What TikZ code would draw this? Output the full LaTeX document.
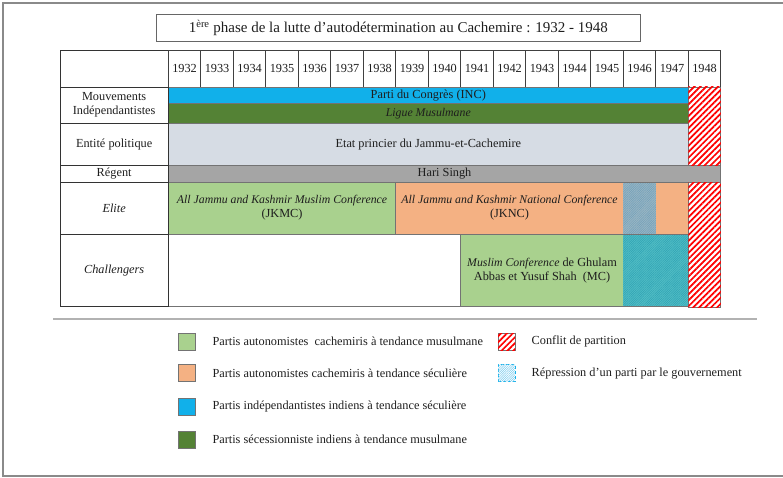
\documentclass[tikz,border=0pt]{standalone}
\usepackage{fontspec}
\setmainfont{Liberation Serif}
\usetikzlibrary{patterns.meta}
\definecolor{incblue}{HTML}{11B0EA}
\definecolor{liguegreen}{HTML}{548235}
\definecolor{etatgrey}{HTML}{D6DCE4}
\definecolor{harigrey}{HTML}{A5A5A5}
\definecolor{lightgreen}{HTML}{A9D18E}
\definecolor{orangeb}{HTML}{F4B183}
\definecolor{repOrange}{HTML}{9BB6C2}
\definecolor{repOrangeL}{HTML}{6E9FBC}
\definecolor{repTeal}{HTML}{52BEC4}
\definecolor{repTealL}{HTML}{2EA2B6}
\definecolor{repLegend}{HTML}{7CCDF0}
\definecolor{txt}{HTML}{1E1E1E}
\definecolor{framegrey}{HTML}{8A8A8A}
\newcommand{\itsmall}[1]{{\fontsize{11.8}{14}\selectfont\textit{#1}}}
\begin{document}
\begin{tikzpicture}[x=1pt,y=-1pt,
  base/.style={inner sep=0pt, outer sep=0pt, anchor=north west, align=center,
    text=txt, font=\fontsize{12.3}{14}\selectfont},
  labelcell/.style={base, draw=black!80, line width=0.9pt},
  yearcell/.style={base, draw=black!75, line width=0.8pt, minimum width=32.5pt, minimum height=37pt},
  bar/.style={base, draw=black!55, line width=0.7pt},
  plain/.style={base, draw=none},
  partition/.style={fill=white, postaction={pattern={Lines[angle=45,distance=4.2pt,line width=1.7pt]}, pattern color=red}},
  reporange/.style={fill=repOrange, postaction={pattern={Lines[angle=45,distance=1.6pt,line width=0.5pt]}, pattern color=repOrangeL}},
  repteal/.style={fill=repTeal, postaction={pattern={Lines[angle=45,distance=1.6pt,line width=0.5pt]}, pattern color=repTealL}},
  legsq/.style={base, anchor=center, draw=black!55, line width=0.7pt, minimum width=17pt, minimum height=17pt},
  legtxt/.style={base, anchor=west},
  frame/.style={draw=framegrey, line width=1.5pt},
  sep/.style={draw=black!30, line width=1.3pt}
]
\useasboundingbox (0,0) rectangle (783,478);

% outer frame
\coordinate (fTL) at (3,3);
\coordinate (fTR) at (790,3);
\coordinate (fBL) at (3,476);
\coordinate (fBR) at (790,476);
\draw[frame] (fTR) -- (fTL) -- (fBL) -- (fBR);

% title
\node[base, draw=black!60, line width=0.9pt, minimum width=484.7pt, minimum height=27.7pt,
  font=\fontsize{15}{18}\selectfont] (title) at (156,14)
  {1\textsuperscript{ère} phase de la lutte d’autodétermination au Cachemire : 1932 - 1948};

% header
\node[labelcell, minimum width=108.3pt, minimum height=37pt] (corner) at (60,50) {};
\foreach \i in {0,...,16}{
  \pgfmathsetmacro{\xx}{168.3+32.5*\i}
  \node[yearcell] (y\i) at (\xx,50) {\the\numexpr1932+\i\relax};
}

% bars
\node[bar, fill=incblue, minimum width=520pt, minimum height=16.3pt] (inc) at (168.3,87) {Parti du Congrès (INC)};
\node[bar, fill=liguegreen, minimum width=520pt, minimum height=20pt] (ligue) at (168.3,103.3) {\itsmall{Ligue Musulmane}};
\node[bar, fill=etatgrey, minimum width=520pt, minimum height=42.4pt] (etat) at (168.3,123.3) {Etat princier du Jammu-et-Cachemire};
\node[bar, fill=harigrey, minimum width=552.5pt, minimum height=16.6pt] (hari) at (168.3,165.7) {Hari Singh};
\node[bar, fill=lightgreen, minimum width=227.5pt, minimum height=51.7pt] (jkmc) at (168.3,182.3)
  {\itsmall{All Jammu and Kashmir Muslim Conference}\\(JKMC)};
\node[plain, fill=orangeb, minimum width=227.5pt, minimum height=51.7pt] (jknc) at (395.8,182.3)
  {\itsmall{All Jammu and Kashmir National Conference}\\(JKNC)};
\node[plain, reporange, minimum width=32.5pt, minimum height=51.7pt] (jkncR) at (623.3,182.3) {};
\node[plain, fill=orangeb, minimum width=32.5pt, minimum height=51.7pt] (jkncB) at (655.8,182.3) {};
\draw[draw=black!55, line width=0.7pt] (jknc.north west) rectangle (jkncB.south east);

\node[bar, fill=white, minimum width=292.5pt, minimum height=72.7pt] (chalEmpty) at (168.3,234) {};
\node[plain, fill=lightgreen, minimum width=162.5pt, minimum height=72.7pt] (mc) at (460.8,234)
  {\itsmall{Muslim Conference} de Ghulam\\Abbas et Yusuf Shah\ \ (MC)};
\node[plain, repteal, minimum width=65pt, minimum height=72.7pt] (mcR) at (623.3,234) {};
\draw[draw=black!55, line width=0.7pt] (mc.north west) rectangle (mcR.south east);

% partition conflict 1948
\node[bar, partition, minimum width=32.5pt, minimum height=78.7pt] (partA) at (688.3,87) {};
\node[bar, partition, minimum width=32.5pt, minimum height=124.7pt] (partB) at (688.3,182.3) {};

% row labels
\node[labelcell, minimum width=108.3pt, minimum height=36.3pt] (lMouv) at (60,87) {Mouvements\\Indépendantistes};
\node[labelcell, minimum width=108.3pt, minimum height=42.4pt] (lEnt) at (60,123.3) {Entité politique};
\node[labelcell, minimum width=108.3pt, minimum height=16.6pt] (lReg) at (60,165.7) {\raisebox{-1.5pt}{Régent}};
\node[labelcell, minimum width=108.3pt, minimum height=51.7pt] (lElite) at (60,182.3) {\textit{Elite}};
\node[labelcell, minimum width=108.3pt, minimum height=72.7pt] (lChal) at (60,234) {\textit{Challengers}};

% separator
\coordinate (sL) at (53,319);
\coordinate (sR) at (757,319);
\draw[sep] (sL) -- (sR);

% legend
\node[legsq, fill=lightgreen] (k1) at (187.2,341.7) {};
\node[legtxt] (t1) at (212.5,341.7) {Partis autonomistes\ \ cachemiris à tendance musulmane};
\node[legsq, fill=orangeb] (k2) at (187.2,373.3) {};
\node[legtxt] (t2) at (212.5,373.3) {Partis autonomistes cachemiris à tendance séculière};
\node[legsq, fill=incblue] (k3) at (187.2,406.7) {};
\node[legtxt] (t3) at (212.5,406.7) {Partis indépendantistes indiens à tendance séculière};
\node[legsq, fill=liguegreen] (k4) at (187.2,439.5) {};
\node[legtxt] (t4) at (212.5,439.5) {Partis sécessionniste indiens à tendance musulmane};
\node[legsq, partition] (k5) at (506.7,341.7) {};
\node[legtxt] (t5) at (531.7,341.7) {Conflit de partition};
\node[legsq, draw=incblue, densely dashed, fill=white, postaction={pattern={Lines[angle=45,distance=1.6pt,line width=0.5pt]}, pattern color=repLegend}] (k6) at (506.7,373.3) {};
\node[legtxt] (t6) at (531.7,373.3) {Répression d’un parti par le gouvernement};
\end{tikzpicture}
\end{document}
